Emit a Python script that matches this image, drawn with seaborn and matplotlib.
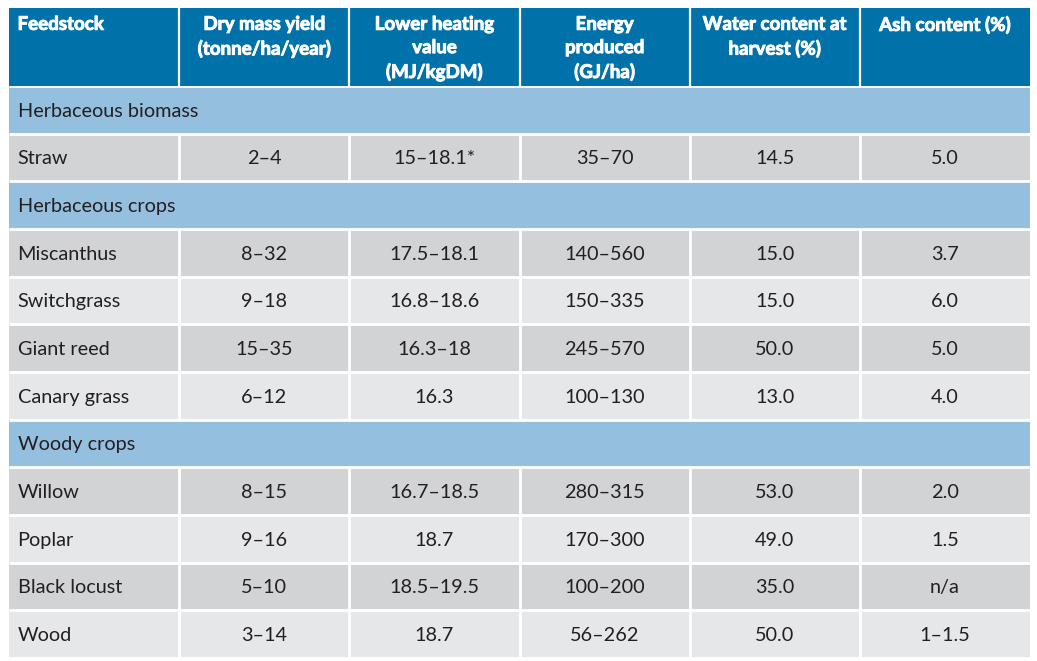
import numpy as np
import matplotlib
matplotlib.use("Agg")
import matplotlib.pyplot as plt
import matplotlib.patheffects as pe
from matplotlib.colors import ListedColormap
import seaborn as sns

# table content
headers = ["Feedstock", "Dry mass yield\n(tonne/ha/year)", "Lower heating\nvalue\n(MJ/kgDM)",
           "Energy\nproduced\n(GJ/ha)", "Water content at\nharvest (%)", "Ash content (%)"]
sections = {0: "Herbaceous biomass", 2: "Herbaceous crops", 7: "Woody crops"}
feedstock = ["Straw", "Miscanthus", "Switchgrass", "Giant reed", "Canary grass",
             "Willow", "Poplar", "Black locust", "Wood"]
dry_mass = ["2–4", "8–32", "9–18", "15–35", "6–12", "8–15", "9–16", "5–10", "3–14"]
heating = ["15–18.1*", "17.5–18.1", "16.8–18.6", "16.3–18", "16.3",
           "16.7–18.5", "18.7", "18.5–19.5", "18.7"]
energy = ["35–70", "140–560", "150–335", "245–570", "100–130",
          "280–315", "170–300", "100–200", "56–262"]
water = ["14.5", "15.0", "15.0", "50.0", "13.0", "53.0", "49.0", "35.0", "50.0"]
ash = ["5.0", "3.7", "6.0", "5.0", "4.0", "2.0", "1.5", "n/a", "1–1.5"]

HEAD = "#0071a9"
SECT = "#95bfdf"
DARK = "#d1d3d4"
LIGHT = "#e6e7e8"
TXT = "#231f20"

sns.set_theme(style="white")
plt.rcParams["font.family"] = ["Lato", "DejaVu Sans"]

# build the body rows: section rows and data rows
rows = []
k = 0
n_rows = len(feedstock) + len(sections)
for r in range(n_rows):
    if r in sections:
        rows.append(("section", sections[r]))
    else:
        rows.append(("data", k))
        k += 1

codes = np.zeros((n_rows, 6))
shade = 1
for r, (kind, v) in enumerate(rows):
    if kind == "section":
        codes[r, :] = 0
        shade = 1
    else:
        codes[r, :] = shade
        shade = 2 if shade == 1 else 1

fig = plt.figure(figsize=(10.37, 6.61), dpi=100)
left = 9 / 1037
width = 1021 / 1037
ax_h = fig.add_axes([left, 1 - 86 / 661, width, 78 / 661])
ax_b = fig.add_axes([left, 1 - 658 / 661, width, 572 / 661])

sns.heatmap(np.zeros((1, 6)), ax=ax_h, cmap=ListedColormap([HEAD]), cbar=False,
            xticklabels=False, yticklabels=False)
sns.heatmap(codes, ax=ax_b, cmap=ListedColormap([SECT, DARK, LIGHT]), cbar=False,
            vmin=0, vmax=2, xticklabels=False, yticklabels=False)

# header
ax_h.vlines(range(1, 6), 0, 1, color="white", lw=1.6)
bold = [pe.withStroke(linewidth=0.7, foreground="white")]
for j, h in enumerate(headers):
    x = 0.05 if j == 0 else j + 0.5
    ha = "left" if j == 0 else "center"
    ax_h.text(x, 0.1, h, ha=ha, va="top", color="white", path_effects=bold,
              fontsize=13.5, fontweight="bold", linespacing=1.45)

# body
ax_b.hlines(range(0, n_rows + 1), 0, 6, color="white", lw=2)
for r, (kind, v) in enumerate(rows):
    y = r + 0.53
    if kind == "section":
        ax_b.text(0.05, y, v, ha="left", va="center", color=TXT, fontsize=14.3)
        continue
    ax_b.vlines(range(1, 6), r, r + 1, color="white", lw=2)
    vals = [feedstock[v], dry_mass[v], heating[v], energy[v], water[v], ash[v]]
    for j, s in enumerate(vals):
        x = 0.05 if j == 0 else j + 0.5
        ha = "left" if j == 0 else "center"
        ax_b.text(x, y, s, ha=ha, va="center", color=TXT, fontsize=14.3)

for a in (ax_h, ax_b):
    for sp in a.spines.values():
        sp.set_visible(False)

fig.savefig("out.png", dpi=100, facecolor="white")
